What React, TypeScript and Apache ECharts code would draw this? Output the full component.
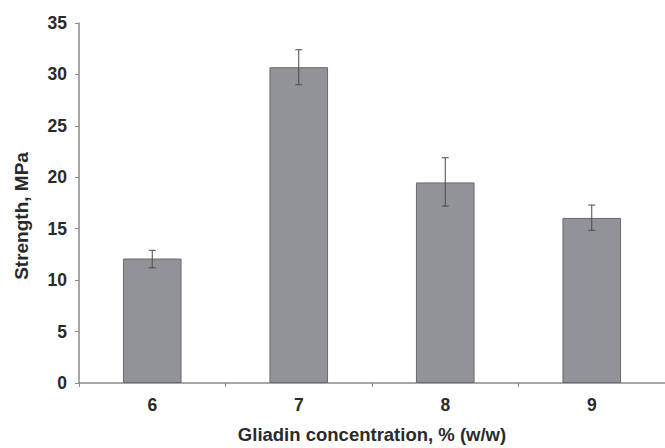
import React, { useEffect, useRef } from "react";
import * as echarts from "echarts";

const categories = ["6", "7", "8", "9"];
const strength = [12.1, 30.7, 19.5, 16.05];
const errLow = [11.2, 29.0, 17.2, 14.85];
const errHigh = [12.9, 32.4, 21.9, 17.3];
const yTicks = { min: 0, max: 35, interval: 5 };

export default function App() {
  const ref = useRef<HTMLDivElement>(null);
  useEffect(() => {
    if (!ref.current) return;
    const chart = echarts.init(ref.current, null, { renderer: "svg" });
    const font = "Liberation Sans, Arial, sans-serif";
    const errData = categories.map((_, i) => [i, errLow[i], errHigh[i]]);
    chart.setOption({
      animation: false,
      backgroundColor: "#ffffff",
      grid: { left: 79, right: 0, top: 23, bottom: 65, outerBoundsMode: "none", containLabel: false },
      xAxis: {
        type: "category",
        data: categories,
        name: "Gliadin concentration, % (w/w)",
        nameLocation: "middle",
        nameGap: 42,
        nameTextStyle: { fontFamily: font, fontWeight: "bold", fontSize: 18.5, color: "#2a2a2a" },
        axisLine: { lineStyle: { color: "#8a8a8a", width: 1.5 } },
        axisTick: { show: true, alignWithLabel: false, length: 4, lineStyle: { color: "#8a8a8a" } },
        axisLabel: { fontFamily: font, fontWeight: "bold", fontSize: 17.5, color: "#2a2a2a", margin: 13 },
      },
      yAxis: {
        type: "value",
        min: yTicks.min,
        max: yTicks.max,
        interval: yTicks.interval,
        name: "Strength, MPa",
        nameLocation: "middle",
        nameGap: 48,
        nameTextStyle: { fontFamily: font, fontWeight: "bold", fontSize: 19, color: "#2a2a2a", padding: [0, 26, 0, 0] },
        axisLine: { show: true, lineStyle: { color: "#8a8a8a", width: 1.5 } },
        axisTick: { show: true, length: 4, lineStyle: { color: "#8a8a8a" } },
        splitLine: { show: false },
        axisLabel: { fontFamily: font, fontWeight: "bold", fontSize: 17.5, color: "#2a2a2a", margin: 12 },
      },
      series: [
        {
          type: "bar",
          data: strength,
          barWidth: "40%",
          itemStyle: { color: "#929398", borderColor: "#6a6a6e", borderWidth: 1 },
        },
        {
          type: "custom",
          data: errData,
          z: 10,
          renderItem: (params: any, api: any) => {
            const x = api.value(0);
            const lo = api.coord([x, api.value(1)]);
            const hi = api.coord([x, api.value(2)]);
            const cap = 3.5;
            const style = { stroke: "#4a4a4e", lineWidth: 1 };
            return {
              type: "group",
              children: [
                { type: "line", shape: { x1: lo[0], y1: lo[1], x2: hi[0], y2: hi[1] }, style },
                { type: "line", shape: { x1: hi[0] - cap, y1: hi[1], x2: hi[0] + cap, y2: hi[1] }, style },
                { type: "line", shape: { x1: lo[0] - cap, y1: lo[1], x2: lo[0] + cap, y2: lo[1] }, style },
              ],
            };
          },
        },
      ],
    });
    return () => chart.dispose();
  }, []);
  return <div ref={ref} style={{ width: 665, height: 448, position: "absolute", left: 0, top: 0 }} />;
}
